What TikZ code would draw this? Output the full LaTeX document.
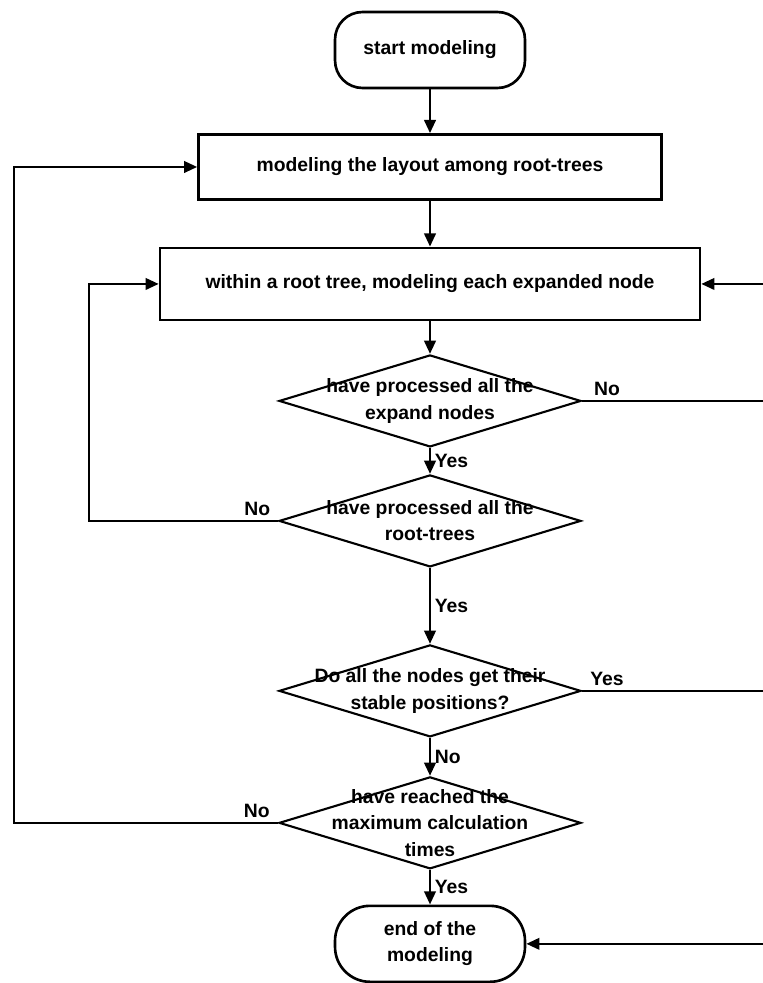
\documentclass[tikz,border=0pt]{standalone}
\usepackage{fontspec}
\setmainfont{Liberation Sans}
\usetikzlibrary{shapes.geometric, arrows.meta, positioning}

\tikzset{
    chart/.style = {font=\fontsize{11}{15}\selectfont\bfseries},
    terminal/.style = {chart, draw, line width=1.5pt, rounded corners=0.55cm, minimum width=3.8cm, minimum height=1.52cm, align=center},
    process/.style = {chart, draw, line width=1.5pt, minimum height=1.3cm, align=center},
    decision/.style = {draw, diamond, line width=1.2pt, minimum width=6.04cm, minimum height=1.84cm, inner sep=0pt},
    dtext/.style = {chart, align=center, inner sep=0pt},
    flow/.style = {-{Triangle[length=7.5pt, width=6.5pt]}, line width=1.5pt},
    tag/.style = {chart, inner sep=2pt}
}

\begin{document}
\begin{tikzpicture} [x=0.02cm, y=-0.02cm, node distance = 2.4cm, on grid, auto]
    \path [use as bounding box, clip] (0,0) rectangle (763,983);

    \node (start) [terminal] at (430,50) {start modeling};
    \node (layout) [process, minimum width=9.26cm, below = 2.34cm of start] {modeling the layout among root-trees};
    \node (within) [process, minimum width=10.8cm, minimum height=1.44cm, below = 2.34cm of layout] {within a root tree, modeling each expanded node};
    \node (allexp) [decision, below = 2.34cm of within, label={[dtext]center:{have processed all the\\expand nodes}}] {};
    \node (allroot) [decision, below = 2.4cm of allexp, label={[dtext]center:{have processed all the\\root-trees}}] {};
    \node (stable) [decision, below = 3.4cm of allroot, label={[dtext]center:{Do all the nodes get their\\stable positions?}}] {};
    \node (maxcalc) [decision, below = 2.64cm of stable, label={[dtext]center:{have reached the\\maximum calculation\\times}}] {};
    \node (end) [terminal, rounded corners=0.7cm, below = 2.42cm of maxcalc] {end of the\\modeling};

    \coordinate (rx) at (790,0);
    \coordinate (lx) at (14,0);
    \coordinate (ix) at (89,0);

    \path [flow] (start) edge (layout);
    \path [flow] (layout) edge (within);
    \path [flow] (within) edge (allexp);
    \path [flow] (allexp) edge node [tag] {Yes} (allroot);
    \path [flow] (allroot) edge node [tag] {Yes} (stable);
    \path [flow] (stable) edge node [tag] {No} (maxcalc);
    \path [flow] (maxcalc) edge node [tag] {Yes} (end);

    \draw [flow] (allexp.east) -- node [tag, pos=0.12] {No} (allexp.east -| rx) -- (within.east -| rx) -- (within.east);
    \draw [flow] (stable.east) -- node [tag, pos=0.12] {Yes} (stable.east -| rx) -- (end.east -| rx) -- (end.east);
    \draw [flow] (allroot.west) -- node [tag, pos=0.11, swap] {No} (allroot.west -| ix) -- (within.west -| ix) -- (within.west);
    \draw [flow] (maxcalc.west) -- node [tag, pos=0.08, swap] {No} (maxcalc.west -| lx) -- (layout.west -| lx) -- (layout.west);
\end{tikzpicture}
\end{document}
